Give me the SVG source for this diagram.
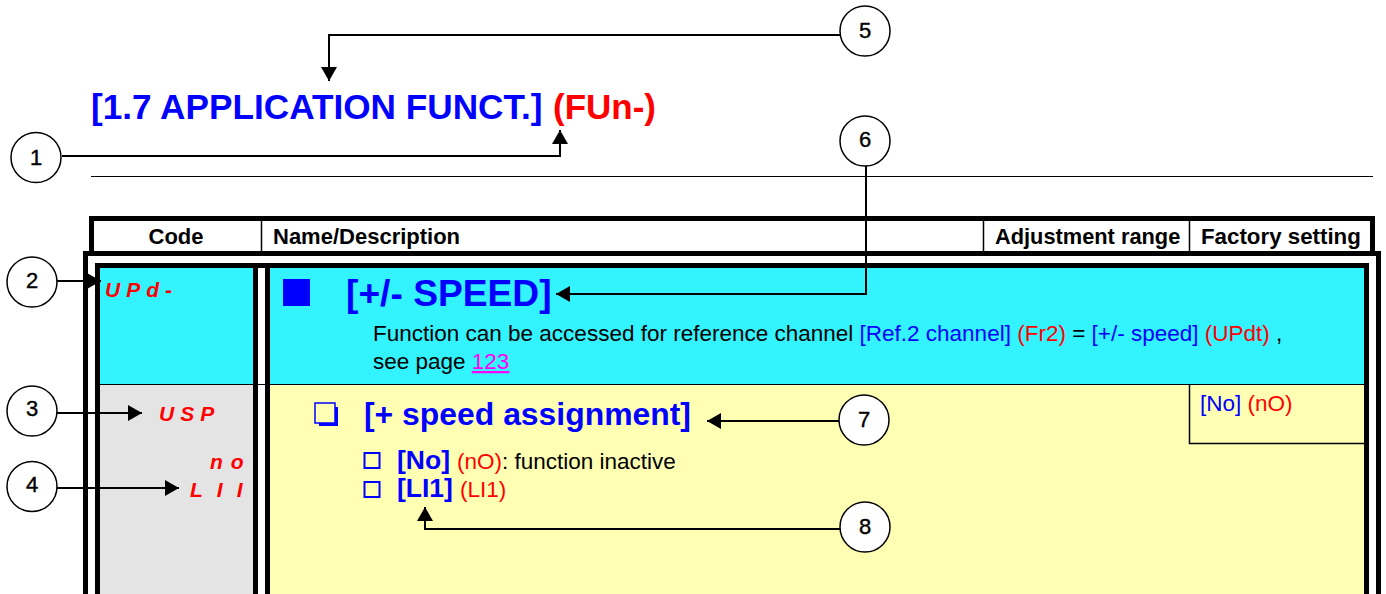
<svg xmlns="http://www.w3.org/2000/svg" width="1386" height="594" viewBox="0 0 1386 594">
<style>
text{font-family:"Liberation Sans",Arial,sans-serif}
.b{fill:#0000ff}.r{fill:#ff0000}.k{fill:#000}
.hd{font-size:22px;font-weight:700;fill:#000}
.body{font-size:22.5px}
.bar{fill:#000}
.seg{font-size:21px;font-style:italic;font-weight:700;fill:#ff0000}
.cnum{font-size:22px;fill:#000;stroke:#000;stroke-width:.4;text-anchor:middle}
.circle{fill:#fff;stroke:#000;stroke-width:1.5}
.conn{fill:none;stroke:#000;stroke-width:2}
.tick{fill:none;stroke:#0000ff;stroke-width:2}
.thin{stroke:#000;stroke-width:1.5;fill:none}
</style>
<defs>
<marker id="ah" markerUnits="userSpaceOnUse" markerWidth="15" markerHeight="16" refX="14" refY="8" orient="auto"><path d="M0 0L14 8L0 16Z" fill="#000"/></marker>
</defs>
<rect width="1386" height="594" fill="#fff"/>
<g id="title">
<text x="91" y="119" font-size="35.2" font-weight="700" class="b">[1.7 APPLICATION FUNCT.]</text>
<text x="553" y="119" font-size="35" font-weight="700" class="r">(FUn-)</text>
</g>
<line id="rule" x1="91" y1="176.5" x2="1373" y2="176.5" stroke="#000" stroke-width="1"/>
<g id="table">
<rect x="89" y="216" width="1286" height="5" class="bar"/>
<rect x="89" y="216" width="5" height="36" class="bar"/>
<rect x="1370" y="216" width="5" height="36" class="bar"/>
<rect x="83" y="251" width="1298" height="5" class="bar"/>
<rect x="83" y="251" width="5" height="343" class="bar"/>
<rect x="1376" y="251" width="5" height="343" class="bar"/>
<rect x="100" y="268" width="153" height="116" fill="#33f3ff"/>
<rect x="270" y="268" width="1094" height="116" fill="#33f3ff"/>
<rect x="100" y="384" width="153" height="210" fill="#e4e4e4"/>
<rect x="270" y="384" width="1094" height="210" fill="#ffffb4"/>
<rect x="95" y="263" width="1274" height="5" class="bar"/>
<rect x="95" y="263" width="5" height="331" class="bar"/>
<rect x="253" y="268" width="5" height="326" class="bar"/>
<rect x="265" y="268" width="5" height="326" class="bar"/>
<rect x="1364" y="263" width="5" height="331" class="bar"/>
<line x1="100" y1="384.5" x2="1364" y2="384.5" stroke="#000" stroke-width="1"/>
<path d="M261.5 221V251M983.5 221V251M1189.5 221V251M1189.5 384V443.5H1364" class="thin"/>
<text x="176" y="244" text-anchor="middle" class="hd">Code</text>
<text x="273" y="244" class="hd">Name/Description</text>
<text x="995" y="244" class="hd" font-size="21.8" style="font-size:21.8px">Adjustment range</text>
<text x="1201" y="244" class="hd" style="font-size:22.3px">Factory setting</text>
</g>
<g id="codes">
<text x="105" y="297" class="seg" letter-spacing="6">UPd-</text>
<text x="159" y="421" class="seg" letter-spacing="6">USP</text>
<text x="210" y="469" class="seg" letter-spacing="8">no</text>
<text x="190" y="497" class="seg" letter-spacing="14">LII</text>
</g>
<g id="speed-row">
<rect x="283" y="279" width="27" height="27" class="b"/>
<text x="346" y="306" font-size="37.2" font-weight="700" class="b">[+/- SPEED]</text>
<text x="373" y="341" class="body">Function can be accessed for reference channel <tspan class="b">[Ref.2 channel]</tspan> <tspan class="r">(Fr2)</tspan> = <tspan class="b">[+/- speed]</tspan> <tspan class="r">(UPdt)</tspan> ,</text>
<text x="373" y="369" class="body">see page <tspan fill="#ff00ff" text-decoration="underline">123</tspan></text>
</g>
<g id="assignment-row">
<path d="M315 403H335V423H315Z" fill="none" stroke="#0000ff" stroke-width="1.5"/>
<path d="M336.5 407V424.5H319" fill="none" stroke="#0000ff" stroke-width="3"/>
<text x="364" y="425" font-size="31.9" font-weight="700" class="b">[+ speed assignment]</text>
<rect x="364.5" y="453" width="15" height="15" class="tick"/>
<text x="397" y="469" font-size="26.5" font-weight="700" class="b">[No]</text>
<text x="457" y="469" class="body"><tspan class="r">(nO)</tspan>: function inactive</text>
<rect x="364.5" y="482" width="15" height="15" class="tick"/>
<text x="397" y="497" font-size="26.5" font-weight="700" class="b">[LI1]</text>
<text x="460" y="497" class="body r">(LI1)</text>
<text x="1200" y="411" class="body"><tspan class="b">[No]</tspan> <tspan class="r">(nO)</tspan></text>
</g>
<g id="connectors">
<path d="M62 156H560V130" class="conn" marker-end="url(#ah)"/>
<path d="M57 281H101" class="conn" marker-end="url(#ah)"/>
<path d="M57 413H142" class="conn" marker-end="url(#ah)"/>
<path d="M57 488H179" class="conn" marker-end="url(#ah)"/>
<path d="M840 35H329V81" class="conn" marker-end="url(#ah)"/>
<path d="M866 166V294H556" class="conn" marker-end="url(#ah)"/>
<path d="M839 421H707" class="conn" marker-end="url(#ah)"/>
<path d="M840 529H425V507" class="conn" marker-end="url(#ah)"/>
</g>
<g id="n1"><circle cx="36" cy="157.5" r="25" class="circle"/><text x="36" y="165" class="cnum">1</text></g>
<g id="n2"><circle cx="32" cy="282" r="25" class="circle"/><text x="32" y="288" class="cnum">2</text></g>
<g id="n3"><circle cx="32" cy="411" r="25" class="circle"/><text x="32" y="416" class="cnum">3</text></g>
<g id="n4"><circle cx="32" cy="486.5" r="25" class="circle"/><text x="32" y="492" class="cnum">4</text></g>
<g id="n5"><circle cx="865" cy="31" r="25" class="circle"/><text x="865" y="38" class="cnum">5</text></g>
<g id="n6"><circle cx="865" cy="141" r="25" class="circle"/><text x="865" y="147" class="cnum">6</text></g>
<g id="n7"><circle cx="864" cy="420" r="25" class="circle"/><text x="864" y="427" class="cnum">7</text></g>
<g id="n8"><circle cx="865" cy="527" r="25" class="circle"/><text x="865" y="534" class="cnum">8</text></g>
</svg>
